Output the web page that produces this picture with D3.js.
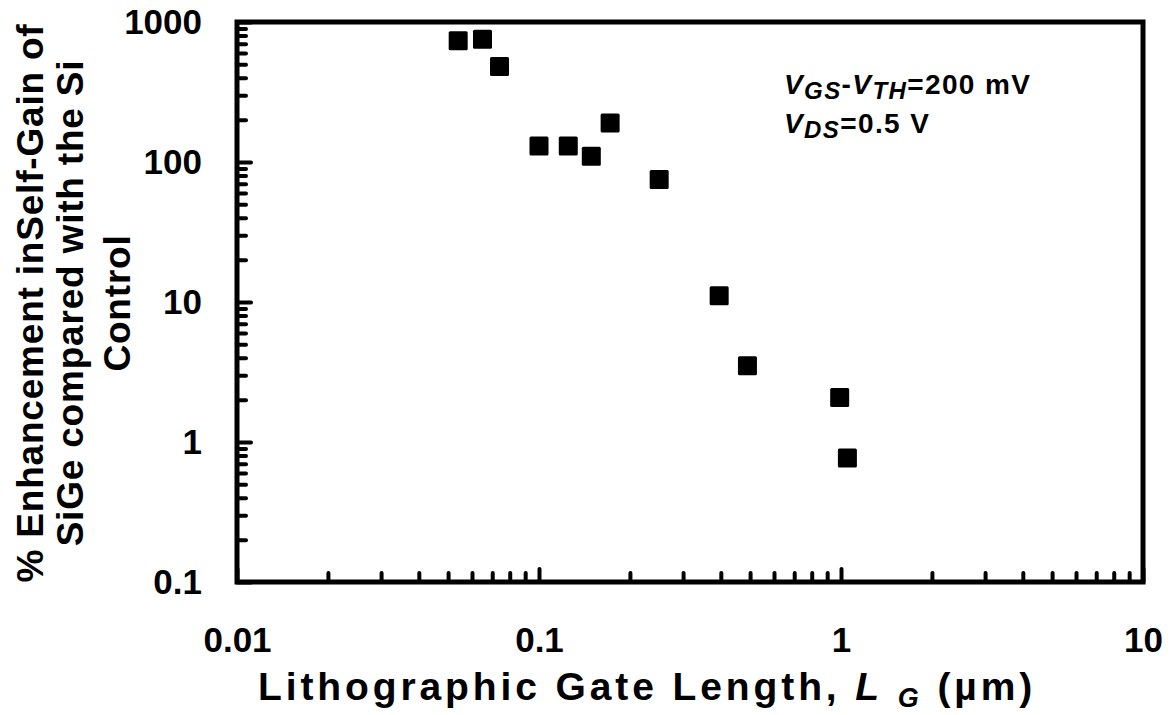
<!DOCTYPE html>
<html lang="en">
<head>
<meta charset="UTF-8">
<title>Self-gain enhancement vs gate length</title>
<script src="https://cdn.jsdelivr.net/npm/d3@7"></script>
<style>
  body { margin: 0; background: #fff; }
  svg { display: block; font-family: Arial, "Liberation Sans", sans-serif; font-weight: bold; }
</style>
</head>
<body>
<svg id="chart" width="1171" height="715"></svg>
<script>
// data
var gateLength  = [0.054, 0.065, 0.074, 0.1, 0.125, 0.149, 0.172, 0.25, 0.395, 0.49, 0.99, 1.05];
var enhancement = [735, 752, 481, 130, 130, 110, 190, 75, 11.1, 3.5, 2.08, 0.77];

var xMajor = [0.01, 0.1, 1, 10];
var xMajorLabels = ["0.01", "0.1", "1", "10"];
var yMajor = [0.1, 1, 10, 100, 1000];
var yMajorLabels = ["0.1", "1", "10", "100", "1000"];

var svg = d3.select("#chart");
var plotL = 237, plotR = 1143, plotT = 22, plotB = 582;

var x = d3.scaleLog().domain([0.01, 10]).range([plotL, plotR]);
var y = d3.scaleLog().domain([0.1, 1000]).range([plotB, plotT]);

// minor ticks 2..9 per decade
function minors(lo, hi) {
  var out = [];
  for (var d = lo; d < hi * 0.999; d *= 10)
    for (var k = 2; k <= 9; k++) out.push(d * k);
  return out;
}

function styleAxis(g) {
  g.select(".domain").remove();
  g.selectAll(".tick line").attr("stroke", "#000").attr("stroke-width", 4).attr("stroke-linecap", "round");
  g.selectAll(".tick text").attr("fill", "#000").style("font-size", "35px").style("font-weight", "bold")
    .style("font-family", "Arial, 'Liberation Sans', sans-serif");
}

// x axis
svg.append("g").attr("transform", "translate(0," + plotB + ")")
  .call(d3.axisBottom(x).tickValues(minors(0.01, 10)).tickSizeInner(-9).tickSizeOuter(0).tickFormat(""))
  .call(styleAxis);
svg.append("g").attr("transform", "translate(0," + plotB + ")")
  .call(d3.axisBottom(x).tickValues(xMajor).tickSizeInner(-13).tickSizeOuter(0).tickPadding(45)
    .tickFormat(function (d, i) { return xMajorLabels[i]; }))
  .call(styleAxis);

// y axis
svg.append("g").attr("transform", "translate(" + plotL + ",0)")
  .call(d3.axisLeft(y).tickValues(minors(0.1, 1000)).tickSizeInner(-9).tickSizeOuter(0).tickFormat(""))
  .call(styleAxis);
svg.append("g").attr("transform", "translate(" + plotL + ",0)")
  .call(d3.axisLeft(y).tickValues(yMajor).tickSizeInner(-14).tickSizeOuter(0).tickPadding(35)
    .tickFormat(function (d, i) { return yMajorLabels[i]; }))
  .call(styleAxis);

// frame
svg.append("rect")
  .attr("x", plotL).attr("y", plotT).attr("width", plotR - plotL).attr("height", plotB - plotT)
  .attr("fill", "none").attr("stroke", "#000").attr("stroke-width", 5);

// points
var sq = 19;
svg.append("g").selectAll("rect")
  .data(gateLength)
  .enter().append("rect")
  .attr("x", function (d) { return x(d) - sq / 2; })
  .attr("y", function (d, i) { return y(enhancement[i]) - sq / 2; })
  .attr("width", sq).attr("height", sq).attr("rx", 1.5)
  .attr("fill", "#000");

// x title
var xt = svg.append("text").attr("x", 258).attr("y", 700)
  .style("font-size", "39px").attr("fill", "#000");
xt.append("tspan").text("Lithographic Gate Length, ");
xt.append("tspan").style("font-style", "italic").text("L");
xt.append("tspan").text(" ");
xt.append("tspan").style("font-style", "italic").style("font-size", "27px").attr("dy", 7).text("G");
xt.append("tspan").attr("dy", -7).text("  (µm)");
(function () {
  var w = xt.node().getComputedTextLength();
  var n = xt.text().length;
  xt.style("letter-spacing", ((782 - w) / n) + "px");
})();

// y title
var ytLines = ["% Enhancement inSelf-Gain of", "SiGe compared with the Si", "Control"];
var ytBase = [43, 83, 130];
ytLines.forEach(function (s, i) {
  svg.append("text")
    .attr("transform", "translate(" + ytBase[i] + ",303) rotate(-90)")
    .attr("text-anchor", "middle")
    .style("font-size", "37px").style("letter-spacing", "0.8px")
    .attr("fill", "#000").text(s);
});

// annotation
var a1 = svg.append("text").attr("x", 784).attr("y", 94).style("font-size", "28px").style("letter-spacing", "1.4px");
a1.append("tspan").style("font-style", "italic").text("V");
a1.append("tspan").style("font-style", "italic").style("font-size", "24px").attr("dy", 5).text("GS");
a1.append("tspan").attr("dy", -5).text("-");
a1.append("tspan").style("font-style", "italic").text("V");
a1.append("tspan").style("font-style", "italic").style("font-size", "24px").attr("dy", 5).text("TH");
a1.append("tspan").attr("dy", -5).text("=200 mV");

var a2 = svg.append("text").attr("x", 784).attr("y", 133).style("font-size", "28px").style("letter-spacing", "1.4px");
a2.append("tspan").style("font-style", "italic").text("V");
a2.append("tspan").style("font-style", "italic").style("font-size", "24px").attr("dy", 5).text("DS");
a2.append("tspan").attr("dy", -5).text("=0.5 V");
</script>
</body>
</html>
